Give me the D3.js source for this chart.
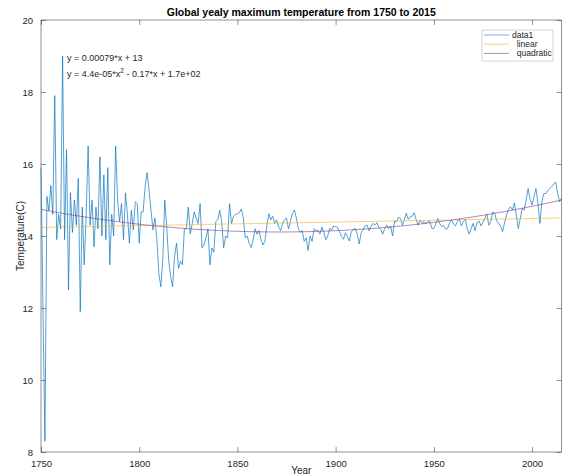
<!DOCTYPE html>
<html>
<head>
<meta charset="utf-8">
<title>Global yealy maximum temperature</title>
<script src="https://d3js.org/d3.v7.min.js"></script>
<style>
  body { margin: 0; background: #fff; }
  svg text { font-family: "Liberation Sans", Arial, sans-serif; fill: #262626; }
</style>
</head>
<body>
<script>
'use strict'

// yearly maximum temperature, one value per year from 1750
const startYear = 1750
const temps = [
  15.9, 12.0, 8.3, 15.1, 14.7, 15.4, 14.6, 17.9, 13.9, 14.6,
  14.2, 19.0, 13.9, 16.4, 12.5, 15.2, 14.1, 15.0, 14.3, 15.6,
  11.9, 14.8, 13.2, 14.6, 16.5, 14.3, 15.0, 13.7, 14.8, 14.2,
  16.2, 14.0, 15.7, 13.9, 15.9, 13.2, 14.6, 14.0, 16.5, 15.0,
  14.4, 14.9, 13.9, 15.2, 14.6, 13.8, 14.72, 14.17, 14.95, 14.9,
  13.8, 14.67, 14.67, 15.37, 15.76, 15.28, 14.72, 14.17, 14.5, 13.9,
  12.96, 12.59, 13.33, 15.0, 14.26, 13.33, 12.87, 12.59, 13.43, 13.8,
  13.1, 13.3, 13.2, 14.2, 14.2, 14.8, 14.06, 14.35, 14.67, 14.5,
  14.35, 14.9, 13.67, 13.75, 13.95, 14.2, 13.2, 13.67, 13.55, 14.4,
  14.45, 14.72, 14.4, 13.67, 14.0, 13.95, 14.9, 14.35, 14.55, 14.6,
  14.62, 14.65, 14.75, 14.5, 13.95, 14.0, 13.8, 13.68, 13.9, 14.2,
  14.05, 14.15, 13.9, 13.75, 13.85, 14.3, 14.62, 14.45, 14.55, 14.35,
  14.45, 14.25, 14.15, 14.35, 14.45, 14.5, 14.2, 14.4, 14.63, 14.72,
  14.5, 14.2, 14.1, 14.15, 13.85, 13.95, 13.6, 14.0, 13.85, 14.2,
  14.15, 14.15, 14.05, 14.25, 14.1, 13.9, 14.0, 14.21, 14.17, 14.28,
  14.26, 14.24, 14.12, 13.98, 13.91, 14.09, 13.98, 13.86, 14.12, 14.18,
  14.21, 14.05, 13.78, 14.09, 14.17, 14.28, 14.3, 14.15, 14.26, 14.35,
  14.3, 14.37, 14.24, 14.18, 14.05, 14.21, 14.3, 14.21, 14.28, 14.0,
  14.42, 14.4, 14.52, 14.49, 14.3, 14.46, 14.63, 14.46, 14.54, 14.55,
  14.65, 14.46, 14.3, 14.44, 14.37, 14.4, 14.35, 14.4, 14.4, 14.21,
  14.21, 14.33, 14.49, 14.35, 14.26, 14.29, 14.19, 14.21, 14.37, 14.44,
  14.33, 14.28, 14.4, 14.48, 14.28, 14.4, 14.46, 14.21, 14.05, 14.21,
  14.35, 14.15, 14.37, 14.42, 14.28, 14.38, 14.49, 14.61, 14.3, 14.4,
  14.67, 14.63, 14.42, 14.35, 14.28, 14.12, 14.37, 14.58, 14.74, 14.81,
  14.72, 14.92, 14.58, 14.21, 14.49, 14.77, 14.72, 15.0, 15.32, 15.02,
  14.86, 15.09, 15.32, 14.91, 14.35, 14.95, 15.18, 15.18, 15.26, 15.32,
  15.37, 15.44, 15.5, 15.2, 14.95, 15.05
]
const years = temps.map((t, i) => startYear + i)

const xTicks = [1750, 1800, 1850, 1900, 1950, 2000]
const yTicks = [8, 10, 12, 14, 16, 18, 20]
const legendNames = ['data1', '  linear', '  quadratic']
const equations = ['y = 0.00079*x + 13', 'y = 4.4e-05*x', '2', ' - 0.17*x + 1.7e+02']

const W = 563, H = 476
const plot = {left: 41, right: 561.5, top: 20, bottom: 452}
const colors = {data: '#0072BD', linear: '#EDB120', quad: '#7E2F8E', axis: '#262626'}

const svg = d3.select('body').append('svg')
  .attr('width', W)
  .attr('height', H)

const x = d3.scaleLinear().domain([1750, 2015]).range([plot.left, plot.right])
const y = d3.scaleLinear().domain([8, 20]).range([plot.bottom, plot.top])

// least squares fits, done on a centred year to keep it stable
const mid = d3.mean(years)
function fitPoly(deg)
{
  const n = deg + 1
  const A = [], b = []
  for (let i = 0; i < n; i++)
  {
    A.push(new Array(n).fill(0))
    b.push(0)
  }
  years.forEach((yr, k) => {
    const t = (yr - mid) / 100
    for (let i = 0; i < n; i++)
    {
      for (let j = 0; j < n; j++) A[i][j] += Math.pow(t, i + j)
      b[i] += Math.pow(t, i) * temps[k]
    }
  })
  // gaussian elimination
  for (let i = 0; i < n; i++)
  {
    for (let r = i + 1; r < n; r++)
    {
      const f = A[r][i] / A[i][i]
      for (let c = i; c < n; c++) A[r][c] -= f * A[i][c]
      b[r] -= f * b[i]
    }
  }
  const c = new Array(n).fill(0)
  for (let i = n - 1; i >= 0; i--)
  {
    let s = b[i]
    for (let j = i + 1; j < n; j++) s -= A[i][j] * c[j]
    c[i] = s / A[i][i]
  }
  return yr => {
    const t = (yr - mid) / 100
    return c.reduce((acc, ci, i) => acc + ci * Math.pow(t, i), 0)
  }
}
const linFit = fitPoly(1)
const quadFit = fitPoly(2)

const line = d3.line()
  .x(d => x(d[0]))
  .y(d => y(d[1]))

// axes box
svg.append('rect')
  .attr('x', plot.left).attr('y', plot.top)
  .attr('width', plot.right - plot.left).attr('height', plot.bottom - plot.top)
  .attr('fill', '#fff')
  .attr('stroke', colors.axis).attr('stroke-width', 0.5)

const tickLen = 5
function styleAxis(g)
{
  g.select('.domain').remove()
  g.selectAll('.tick line').attr('stroke', colors.axis).attr('stroke-width', 0.5)
  g.selectAll('.tick text')
    .style('font-family', '"Liberation Sans", Arial, sans-serif')
    .attr('font-size', 9.5).attr('fill', colors.axis)
}

svg.append('g')
  .attr('transform', `translate(0,${plot.bottom})`)
  .call(d3.axisBottom(x).tickValues(xTicks).tickFormat(d3.format('d')).tickSize(-tickLen).tickPadding(8))
  .call(styleAxis)
svg.append('g')
  .attr('transform', `translate(0,${plot.top})`)
  .call(d3.axisTop(x).tickValues(xTicks).tickFormat('').tickSize(-tickLen))
  .call(styleAxis)
svg.append('g')
  .attr('transform', `translate(${plot.left},0)`)
  .call(d3.axisLeft(y).tickValues(yTicks).tickFormat(d3.format('d')).tickSize(-tickLen).tickPadding(8))
  .call(styleAxis)
svg.append('g')
  .attr('transform', `translate(${plot.right},0)`)
  .call(d3.axisRight(y).tickValues(yTicks).tickFormat('').tickSize(-tickLen))
  .call(styleAxis)

// data and fits
const series = years.map((yr, i) => [yr, temps[i]])
svg.append('path')
  .datum(series)
  .attr('fill', 'none').attr('stroke', colors.data).attr('stroke-width', 0.8)
  .attr('stroke-opacity', 0.85)
  .attr('d', line)

const fitYears = d3.range(1750, 2015.5, 1)
svg.append('path')
  .datum(fitYears.map(yr => [yr, linFit(yr)]))
  .attr('fill', 'none').attr('stroke', colors.linear).attr('stroke-width', 0.8)
  .attr('stroke-opacity', 0.75)
  .attr('d', line)
svg.append('path')
  .datum(fitYears.map(yr => [yr, quadFit(yr)]))
  .attr('fill', 'none').attr('stroke', colors.quad).attr('stroke-width', 0.8)
  .attr('stroke-opacity', 0.75)
  .attr('d', line)

// equations
svg.append('text')
  .attr('x', 67).attr('y', 61).attr('font-size', 9)
  .text(equations[0])
const eq2 = svg.append('text')
  .attr('x', 67).attr('y', 77).attr('font-size', 9)
eq2.append('tspan').text(equations[1])
eq2.append('tspan').attr('dy', -4).attr('font-size', 6.5).text(equations[2])
eq2.append('tspan').attr('dy', 4).text(equations[3])

// title and axis labels
svg.append('text')
  .attr('x', (plot.left + plot.right) / 2).attr('y', 16)
  .attr('text-anchor', 'middle').attr('font-size', 10.5).attr('font-weight', 'bold')
  .style('fill', '#000')
  .text('Global yealy maximum temperature from 1750 to 2015')
svg.append('text')
  .attr('x', (plot.left + plot.right) / 2).attr('y', 474)
  .attr('text-anchor', 'middle').attr('font-size', 10)
  .text('Year')
svg.append('text')
  .attr('transform', `translate(24,${(plot.top + plot.bottom) / 2}) rotate(-90)`)
  .attr('text-anchor', 'middle').attr('font-size', 10)
  .text('Temperature(C)')

// legend
const legend = svg.append('g').attr('transform', 'translate(482,30)')
legend.append('rect')
  .attr('width', 71).attr('height', 31)
  .attr('fill', '#fff').attr('stroke', '#aaa').attr('stroke-width', 0.5)
const legendColors = [colors.data, colors.linear, colors.quad]
legendNames.forEach((name, i) => {
  const ly = 5 + i * 9.2
  legend.append('line')
    .attr('x1', 2).attr('x2', 27).attr('y1', ly).attr('y2', ly)
    .attr('stroke', legendColors[i]).attr('stroke-width', 0.8).attr('stroke-opacity', 0.7)
  legend.append('text')
    .attr('x', 30).attr('y', ly + 3).attr('font-size', 8.5)
    .attr('xml:space', 'preserve').style('white-space', 'pre')
    .text(name)
})
</script>
</body>
</html>
